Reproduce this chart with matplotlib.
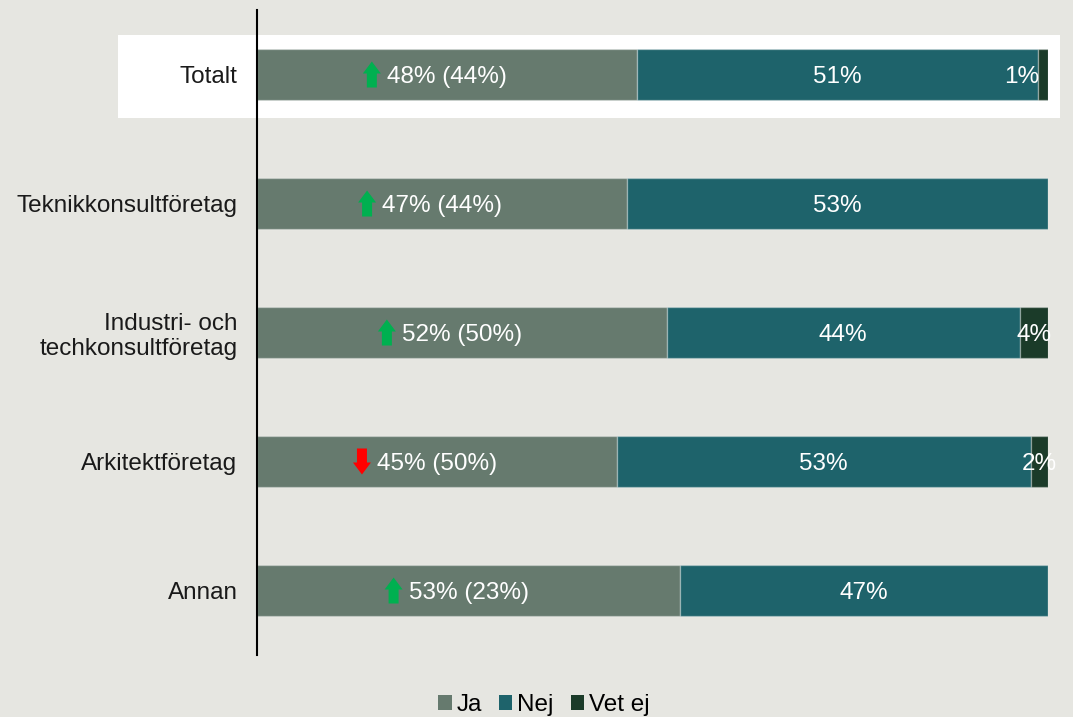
import matplotlib
matplotlib.use("Agg")
from matplotlib import pyplot as plt
from matplotlib.patches import Rectangle, Patch, Polygon
import matplotlib.transforms as mtransforms

# groups and shares (%)
groups = ["Totalt", "Teknikkonsultföretag", "Industri- och\ntechkonsultföretag",
          "Arkitektföretag", "Annan"]
ja = [48.0, 46.8, 51.8, 45.5, 53.5]
nej = [50.7, 53.2, 44.6, 52.3, 46.5]
vet_ej = [1.3, 0.0, 3.6, 2.2, 0.0]

ja_lbl = ["48%", "47%", "52%", "45%", "53%"]
ja_prev = ["44%", "44%", "50%", "50%", "23%"]
trend = ["up", "up", "up", "down", "up"]
nej_lbl = ["51%", "53%", "44%", "53%", "47%"]
vet_lbl = ["1%", "", "4%", "2%", ""]

series = ["Ja", "Nej", "Vet ej"]
colors = ["#667a6e", "#1e636b", "#1b3b29"]

plt.rcParams["font.family"] = ["Liberation Sans", "DejaVu Sans"]

fig = plt.figure(figsize=(10.73, 7.17), dpi=100, facecolor="#e6e6e1")

# white highlight behind Totalt row
fig.patches.append(Rectangle((118 / 1073, 599 / 717), 942 / 1073, 83 / 717,
                             transform=fig.transFigure, facecolor="white",
                             edgecolor="none", zorder=-5))

ax = fig.add_axes([257 / 1073, 62 / 717, 791 / 1073, 645 / 717])
ax.patch.set_visible(False)

y = list(range(len(groups)))
left2 = [a + b for a, b in zip(ja, nej)]
edge = (1, 1, 1, 0.3)
ax.barh(y, ja, height=0.4, color=colors[0], edgecolor=edge, linewidth=1)
ax.barh(y, nej, left=ja, height=0.4, color=colors[1], edgecolor=edge, linewidth=1)
ax.barh(y, vet_ej, left=left2, height=0.4, color=colors[2], edgecolor=edge, linewidth=1)

fs = 17.5
up_arrow = [(0, 13), (9, 1), (5, 1), (5, -13), (-5, -13), (-5, 1), (-9, 1)]
for i in y:
    cx = ja[i] / 2
    ax.text(cx, i, ja_lbl[i] + " (" + ja_prev[i] + ")", ha="center",
            va="center_baseline", color="white", fontsize=fs)
    verts = up_arrow if trend[i] == "up" else [(vx, -vy) for vx, vy in up_arrow]
    tr = (mtransforms.Affine2D().translate(-75, 0)
          + mtransforms.ScaledTranslation(cx, i, ax.transData))
    ax.add_patch(Polygon(verts, closed=True, transform=tr,
                         facecolor="#00b050" if trend[i] == "up" else "#ff0000",
                         edgecolor="none", zorder=4))
    ax.text(ja[i] + nej[i] / 2, i, nej_lbl[i], ha="center", va="center_baseline",
            color="white", fontsize=fs)
    if vet_lbl[i]:
        if vet_ej[i] < 2:
            ax.text(left2[i] + 0.2, i, vet_lbl[i], ha="right",
                    va="center_baseline", color="white", fontsize=fs)
        else:
            ax.text(left2[i] + vet_ej[i] / 2, i, vet_lbl[i], ha="center",
                    va="center_baseline", color="white", fontsize=fs)

ax.set_xlim(0, 100)
ax.set_ylim(4.5, -0.5)
ax.set_yticks(y)
ax.set_yticklabels(groups, fontsize=fs, color="#1a1a1a")
ax.tick_params(axis="y", length=0, pad=14)
ax.set_xticks([])
for s in ["top", "right", "bottom"]:
    ax.spines[s].set_visible(False)
ax.spines["left"].set_color("black")
ax.spines["left"].set_linewidth(1.5)
ax.spines["left"].set_zorder(5)

handles = [Patch(facecolor=c, edgecolor="none", label=s) for c, s in zip(colors, series)]
fig.legend(handles=handles, loc="center", bbox_to_anchor=(0.507, 0.017), ncol=3,
           frameon=False, fontsize=fs, handlelength=0.55, handleheight=0.55,
           handletextpad=0.2, columnspacing=0.7)

fig.savefig("out.png", dpi=100, facecolor=fig.get_facecolor())
